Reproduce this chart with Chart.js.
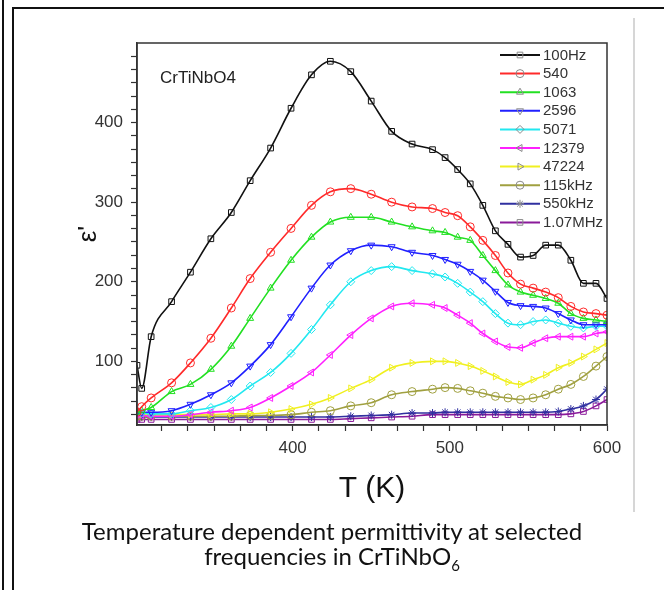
<!DOCTYPE html>
<html>
<head>
<meta charset="utf-8">
<script src="https://cdn.jsdelivr.net/npm/chart.js@4.4.1/dist/chart.umd.min.js"></script>
<style>
  body { margin: 0; background: #fff; }
  #wrap { position: relative; width: 664px; height: 590px; overflow: hidden; background: #fff; }
  #lineL { position: absolute; left: 2px; top: 0; width: 2px; height: 590px; background: #111; }
  #box { position: absolute; left: 12px; top: 7px; width: 700px; height: 700px; border-left: 2px solid #111; border-top: 2px solid #111; }
  #sep { position: absolute; left: 633px; top: 18px; width: 2px; height: 494px; background: #d6d6d6; }
  #chart { position: absolute; left: 0; top: 0; }
  #caption { position: absolute; left: 0; top: 518px; width: 664px; text-align: center;
             font-family: Lato, "Open Sans", sans-serif; font-size: 24px; line-height: 25px; color: #111; }
  #caption sub { font-size: 15px; line-height: 0; }
</style>
</head>
<body>
<div id="wrap">
  <div id="lineL"></div>
  <div id="box"></div>
  <div id="sep"></div>
  <canvas id="chart" width="664" height="590"></canvas>
  <div id="caption">Temperature dependent permittivity at selected<br>frequencies in CrTiNbO<sub>6</sub></div>
</div>
<script>
// temperatures (K)
var temps = [301, 304, 310, 323, 335, 348, 361, 373, 386, 399, 412, 424, 437, 450, 463, 476, 489, 497, 505, 513, 521, 529, 537, 545, 553, 561, 569, 577, 585, 593, 600];

// permittivity for each frequency
var f100Hz  = [95, 66, 131, 175, 212, 254, 287, 327, 368, 418, 460, 477, 464, 427, 389, 373, 366, 356, 341, 323, 296, 264, 247, 231, 233, 246, 246, 227, 198, 198, 179];
var f540    = [36, 43, 54, 73, 98, 129, 167, 204, 237, 267, 296, 313, 317, 310, 300, 294, 292, 287, 283, 269, 252, 233, 211, 197, 192, 187, 180, 169, 162, 160, 158];
var f1063   = [36, 38, 42, 62, 71, 90, 119, 154, 192, 227, 256, 275, 281, 281, 275, 269, 264, 262, 256, 252, 233, 214, 196, 187, 183, 179, 173, 160, 154, 152, 150];
var f2596   = [36, 36, 36, 38, 46, 58, 73, 94, 121, 156, 192, 221, 239, 246, 244, 237, 233, 228, 222, 213, 202, 188, 174, 170, 169, 167, 160, 152, 146, 146, 146];
var f5071   = [36, 35, 34, 34, 38, 42, 52, 69, 86, 110, 140, 171, 200, 214, 219, 214, 210, 206, 198, 187, 175, 160, 148, 146, 150, 152, 148, 144, 142, 144, 144];
var f12379  = [33, 32, 31, 31, 33, 36, 38, 42, 54, 69, 86, 108, 133, 154, 169, 173, 171, 167, 158, 148, 135, 125, 118, 117, 123, 129, 131, 131, 131, 135, 137];
var f47224  = [34, 33, 33, 33, 33, 33, 34, 34, 36, 40, 46, 54, 66, 77, 92, 98, 100, 100, 98, 94, 88, 81, 74, 71, 77, 83, 92, 98, 106, 115, 123];
var f115kHz = [31, 31, 31, 31, 31, 31, 31, 32, 32, 33, 36, 38, 44, 48, 58, 62, 65, 67, 66, 63, 60, 56, 54, 52, 54, 58, 65, 71, 81, 94, 106];
var f550kHz = [30, 30, 30, 30, 30, 30, 30, 30, 30, 30, 30, 30, 31, 32, 33, 35, 35, 36, 36, 36, 36, 36, 36, 36, 36, 36, 37, 40, 44, 52, 65];
var f107MHz = [27, 27, 27, 27, 27, 27, 27, 27, 27, 27, 27, 27, 28, 29, 30, 31, 33, 33, 33, 33, 33, 33, 33, 33, 33, 33, 33, 34, 37, 44, 52];

var labels = ["100Hz", "540", "1063", "2596", "5071", "12379", "47224", "115kHz", "550kHz", "1.07MHz"];
var series = [f100Hz, f540, f1063, f2596, f5071, f12379, f47224, f115kHz, f550kHz, f107MHz];
var colors = ["#111111", "#ff2a2a", "#22e022", "#2020ff", "#22e8f0", "#ff20ff", "#f0f020", "#a0a040", "#3030a0", "#8a1a9a"];
var markers = ["rect", "circle", "triangle", "triangle", "rectRot", "triangle", "triangle", "circle", "star", "rect"];
var markerRot = [0, 0, 0, 180, 0, 270, 90, 0, 0, 0];

var xTicks = [], yTicks = [];
for (var k = 18; k <= 36; k++) xTicks.push(k * 100 / 6);
for (var k = 1; k <= 29; k++) yTicks.push(k * 100 / 6);

var datasets = series.map(function (vals, i) {
    return {
        label: labels[i],
        data: temps.map(function (t, j) { return { x: t, y: vals[j] }; }),
        borderColor: colors[i],
        pointStyle: markers[i],
        pointRotation: markerRot[i]
    };
});

var frame = {
    id: "frame",
    afterDraw: function (chart) {
        var a = chart.chartArea, ctx = chart.ctx;
        ctx.save();
        ctx.strokeStyle = "#333";
        ctx.lineWidth = 1.5;
        ctx.strokeRect(a.left, a.top, a.right - a.left, a.bottom - a.top);

        ctx.fillStyle = "#222";
        ctx.font = "17px Arial, 'Liberation Sans', sans-serif";
        ctx.textBaseline = "middle";
        ctx.fillText("CrTiNbO4", 160, 78);

        // legend
        ctx.font = "15px Arial, 'Liberation Sans', sans-serif";
        chart.data.datasets.forEach(function (ds, i) {
            var y = 55 + i * 18.6;
            ctx.strokeStyle = ds.borderColor;
            ctx.lineWidth = 2;
            ctx.beginPath();
            ctx.moveTo(500, y);
            ctx.lineTo(540, y);
            ctx.stroke();
            ctx.strokeStyle = "#8a8a8a";
            ctx.fillStyle = "rgba(255,255,255,0)";
            ctx.lineWidth = 1;
            Chart.helpers.drawPoint(ctx, { pointStyle: ds.pointStyle, rotation: ds.pointRotation, radius: 4, borderWidth: 1 }, 520, y);
            ctx.fillStyle = "#333";
            ctx.fillText(ds.label, 543, y + 0.5);
        });
        ctx.restore();
    }
};

new Chart("chart", {
    type: "line",
    data: { datasets: datasets },
    options: {
        responsive: false,
        animation: false,
        layout: { padding: { left: 73, top: 43, right: 57, bottom: 83 } },
        plugins: { legend: { display: false }, tooltip: { enabled: false } },
        elements: {
            line: { borderWidth: 1.6, cubicInterpolationMode: "monotone" },
            point: { radius: 4, borderWidth: 1, borderColor: "#8a8a8a", backgroundColor: "rgba(255,255,255,0)" }
        },
        scales: {
            x: {
                type: "linear",
                min: 301,
                max: 600,
                afterBuildTicks: function (axis) { axis.ticks = xTicks.filter(function (v) { return v >= 301 && v <= 600; }).map(function (v) { return { value: v }; }); },
                afterFit: function (axis) { axis.height = 82; },
                ticks: {
                    autoSkip: false, maxRotation: 0, padding: 7, color: "#333",
                    font: { family: "Arial, 'Liberation Sans', sans-serif", size: 17 },
                    callback: function (v) { return Math.abs(v % 100) < 1e-6 ? String(v) : ""; }
                },
                grid: { drawOnChartArea: false, tickLength: 6, color: "#333", tickWidth: 1.2 },
                border: { color: "#333", width: 1.5 },
                title: { display: true, text: "T (K)", color: "#111", padding: 0,
                         font: { family: "Arial, 'Liberation Sans', sans-serif", size: 30 } }
            },
            y: {
                min: 20,
                max: 500,
                afterBuildTicks: function (axis) { axis.ticks = yTicks.filter(function (v) { return v >= 20 && v < 490; }).map(function (v) { return { value: v }; }); },
                afterFit: function (axis) { axis.width = 64; },
                ticks: {
                    autoSkip: false, padding: 8, color: "#333",
                    font: { family: "Arial, 'Liberation Sans', sans-serif", size: 17 },
                    callback: function (v) { return Math.abs(v % 100) < 1e-6 ? String(v) : ""; }
                },
                grid: { drawOnChartArea: false, tickLength: 6, color: "#333", tickWidth: 1.2 },
                border: { color: "#333", width: 1.5 },
                title: { display: true, text: "\u03b5'", color: "#111", padding: 0,
                         font: { family: "Arial, 'Liberation Sans', sans-serif", size: 26 } }
            }
        }
    },
    plugins: [frame]
});
</script>
</body>
</html>
